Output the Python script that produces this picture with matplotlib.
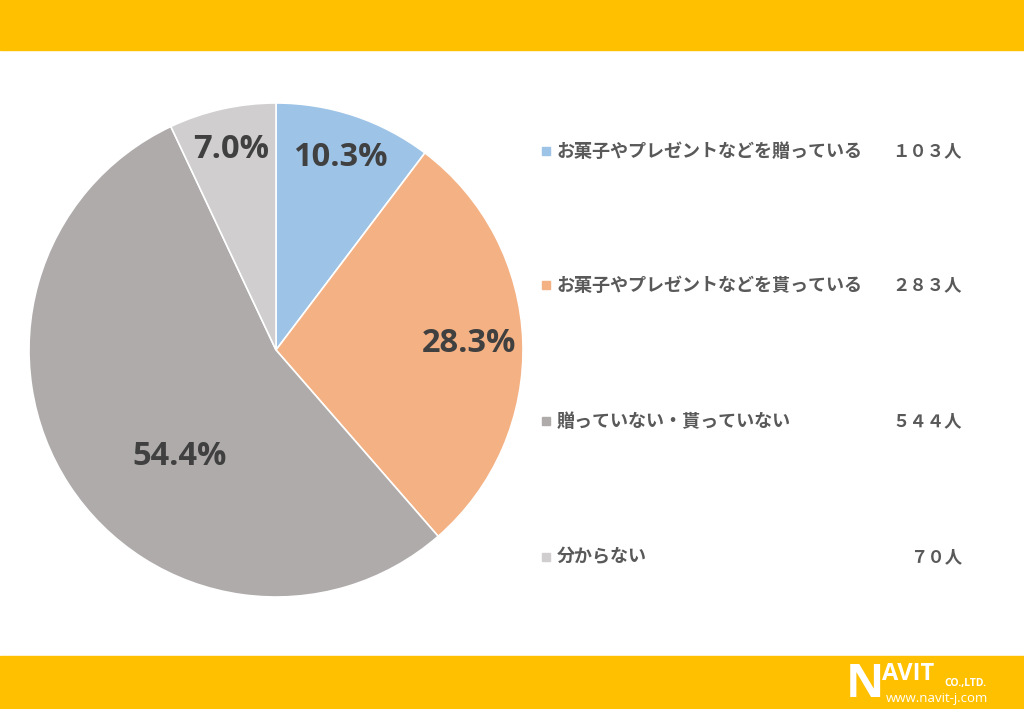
import numpy as np
import matplotlib.pyplot as plt
from matplotlib.patches import Rectangle

plt.rcParams['font.family'] = ['Noto Sans CJK JP', 'DejaVu Sans']

labels = ['お菓子やプレゼントなどを贈っている', 'お菓子やプレゼントなどを貰っている',
          '贈っていない・貰っていない', '分からない']
counts = [103, 283, 544, 70]
count_text = ['１０３人', '２８３人', '５４４人', '７０人']
colors = ['#9DC3E6', '#F4B183', '#AFABAB', '#D0CECE']
# label placement (fraction of radius, angle shift in degrees)
label_dist = [0.82, 0.78, 0.58, 0.83]
label_shift = [0, 0, 14.7, 0]

fig = plt.figure(figsize=(10.24, 7.09), dpi=100)
W, H = 1024, 709

# yellow bands
fig.patches.append(Rectangle((0, 1 - 50 / H), 1, 50 / H, transform=fig.transFigure,
                             color='#FFC000', zorder=0))
fig.patches.append(Rectangle((0, 0), 1, 53 / H, transform=fig.transFigure,
                             color='#FFC000', zorder=0))

# pie axes: center (276, 350), radius ~247 px
r = 247
ax = fig.add_axes([(276 - r) / W, 1 - (350 + r) / H, 2 * r / W, 2 * r / H])
wedges, _ = ax.pie(counts, colors=colors, startangle=90, counterclock=False,
                   wedgeprops=dict(edgecolor='white', linewidth=1.2))
ax.set_aspect('equal')
ax.set_xlim(-1, 1)
ax.set_ylim(-1, 1)

total = sum(counts)
for w, c, d, s in zip(wedges, counts, label_dist, label_shift):
    ang = np.deg2rad((w.theta1 + w.theta2) / 2 + s)
    ax.text(d * np.cos(ang), d * np.sin(ang), f'{c / total * 100:.1f}%',
            ha='center', va='center', fontsize=23.5, fontweight='bold',
            color='#404040', family=['Open Sans', 'DejaVu Sans'])

# legend
ys = [151, 285, 421, 557]
for lab, ct, col, y in zip(labels, count_text, colors, ys):
    fig.patches.append(Rectangle((542 / W, 1 - (y + 4) / H), 8 / W, 8 / H,
                                 transform=fig.transFigure, color=col))
    fig.text(557 / W, 1 - y / H, lab, ha='left', va='center', fontsize=13,
             fontweight='bold', color='#595959')
    fig.text(962 / W, 1 - y / H, ct, ha='right', va='center', fontsize=12.5,
             fontweight='bold', color='#595959')

# logo
logo_font = ['Open Sans', 'DejaVu Sans']
fig.text(846 / W, 1 - 697 / H, 'N', ha='left', va='baseline', fontsize=34,
         fontweight='bold', color='white', family=logo_font)
fig.text(882 / W, 1 - 680 / H, 'AVIT', ha='left', va='baseline', fontsize=17,
         fontweight='bold', color='white', family=logo_font)
fig.text(944 / W, 1 - 686 / H, 'CO.,LTD.', ha='left', va='baseline', fontsize=7.5,
         fontweight='bold', color='white', family=logo_font)
fig.text(886 / W, 1 - 702 / H, 'www.navit-j.com', ha='left', va='baseline', fontsize=9.5,
         color='white', family=logo_font)

fig.savefig('out.png', dpi=100, facecolor='white')
